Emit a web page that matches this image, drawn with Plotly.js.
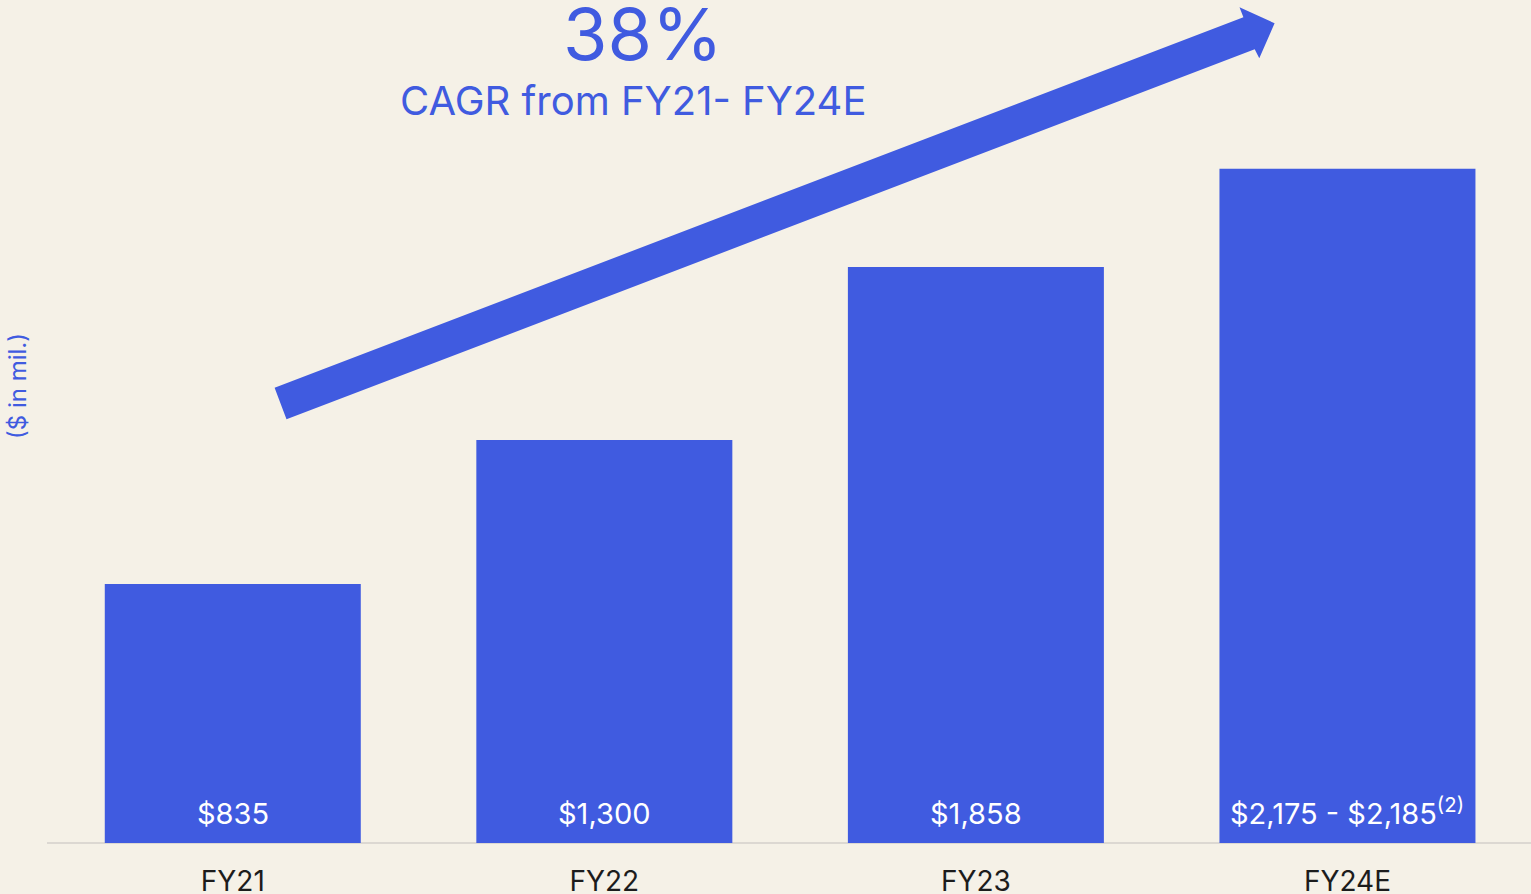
<!DOCTYPE html>
<html>
<head>
<meta charset="utf-8">
<script src="https://cdn.plot.ly/plotly-3.0.1.min.js"></script>
<style>html,body{margin:0;padding:0;background:#F5F1E7;}</style>
</head>
<body>
<div id="chart" style="width:1531px;height:894px;"></div>
<script>
const categories = ["FY21", "FY22", "FY23", "FY24E"];
const revenue = [835, 1300, 1858, 2175];
const valueLabels = ["$835", "$1,300", "$1,858", "$2,175 - $2,185<sup>(2)</sup>"];
const cagrValue = "38%";
const cagrText = "CAGR from FY21- FY24E";
const yAxisLabel = "($ in mil.)";

const W = 1531, H = 894;
const M = {l: 47, r: 0, t: 0, b: 51};
const PW = W - M.l - M.r, PH = H - M.t - M.b;
const px = x => (x - M.l) / PW;
const py = y => (H - M.b - y) / PH;

const BLUE = "#405BE0";
const FONT = "Inter, 'Noto Sans', sans-serif";

// arrow outline, in pixel positions converted to paper coords
const arrowPts = [[274.6,387.7],[1243.4,17.3],[1239.5,7.3],[1274.6,23.3],[1259.3,58.3],[1254.7,49.3],[286.5,419.3]];
const arrowPath = arrowPts.map((p,i)=>(i?"L":"M")+px(p[0]).toFixed(5)+","+py(p[1]).toFixed(5)).join(" ")+" Z";

const trace = {
  type: "bar",
  x: categories,
  y: revenue,
  marker: {color: BLUE, line: {width: 0}},
  hoverinfo: "skip"
};

const annotations = categories.map((c,i)=>({
  x: c, y: 0, xref: "x", yref: "y",
  text: valueLabels[i], showarrow: false,
  yanchor: "bottom", yshift: 10,
  font: {family: FONT, size: 29, color: "#ffffff"}
}));
annotations.push({
  xref: "paper", yref: "paper", x: px(643), y: py(34),
  text: cagrValue, showarrow: false, xanchor: "center", yanchor: "middle",
  font: {family: FONT, size: 72, color: BLUE}
});
annotations.push({
  xref: "paper", yref: "paper", x: px(633), y: py(101),
  text: cagrText, showarrow: false, xanchor: "center", yanchor: "middle",
  font: {family: FONT, size: 40, color: BLUE}
});
annotations.push({
  xref: "paper", yref: "paper", x: px(17), y: py(386),
  text: yAxisLabel, showarrow: false, textangle: -90, xanchor: "center", yanchor: "middle",
  font: {family: FONT, size: 24, color: BLUE}
});

const layout = {
  width: W, height: H,
  margin: M,
  paper_bgcolor: "#F5F1E7",
  plot_bgcolor: "#F5F1E7",
  showlegend: false,
  bargap: 0.311,
  xaxis: {
    type: "category",
    range: [-0.5, 3.494],
    showgrid: false, zeroline: false, showline: false,
    ticks: "",
    tickfont: {family: FONT, size: 28, color: "#1c1c1c"},
    ticklabelstandoff: 19
  },
  yaxis: {
    range: [0, 2719],
    showgrid: false, showticklabels: false, ticks: "",
    zeroline: true, zerolinecolor: "#DCD8D2", zerolinewidth: 2,
    showline: false
  },
  shapes: [{
    type: "path", xref: "paper", yref: "paper",
    path: arrowPath, fillcolor: BLUE, line: {width: 0}, layer: "above"
  }],
  annotations: annotations
};

Plotly.newPlot("chart", [trace], layout, {displayModeBar: false, staticPlot: true});
</script>
</body>
</html>
